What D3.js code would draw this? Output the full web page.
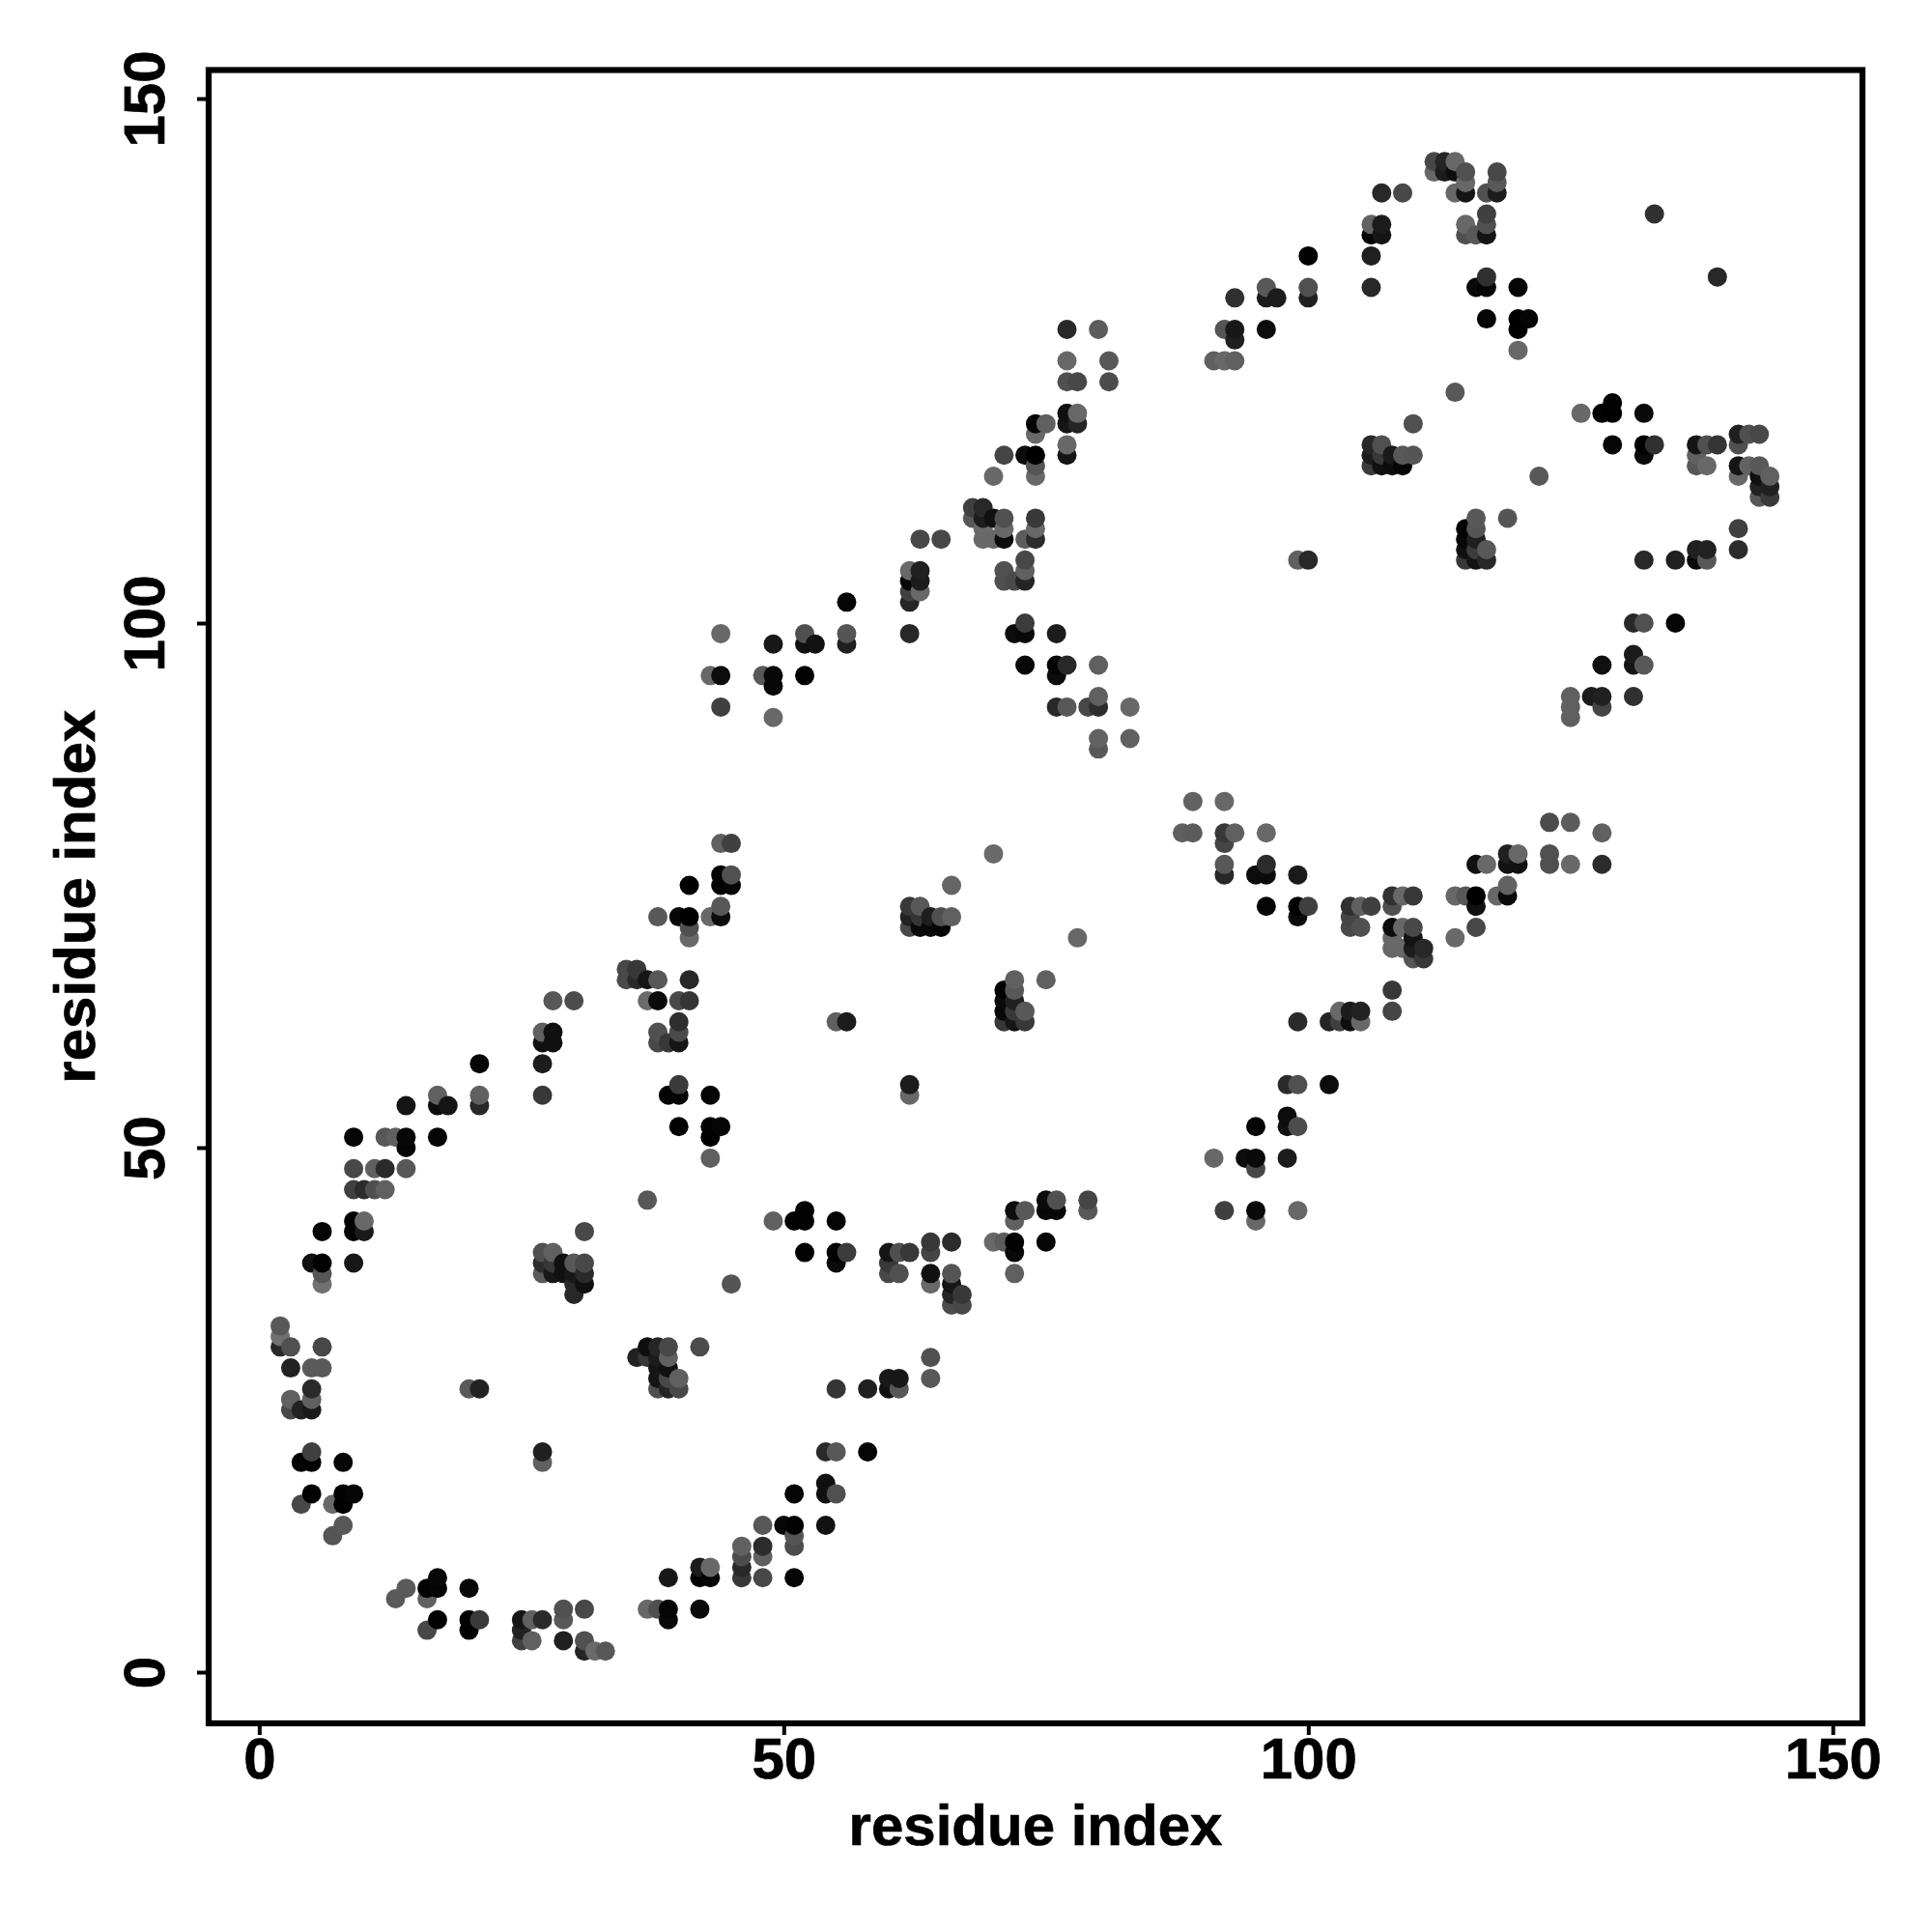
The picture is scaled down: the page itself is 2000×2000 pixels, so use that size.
<!DOCTYPE html>
<html>
<head>
<meta charset="utf-8">
<script src="https://cdn.jsdelivr.net/npm/d3@7"></script>
<style>
html,body{margin:0;padding:0;background:#fff}
svg{display:block}
text{font-family:"Liberation Sans",Arial,sans-serif;font-weight:700;fill:#000;stroke:#000;stroke-width:0.7px}
</style>
</head>
<body>
<svg id="chart" width="2000" height="2000"></svg>
<script>
// Each entry: [residue i, residue j, grey level]
const cornerTurn = [
[2,33,0x58],[2,32,0x70],[2,31,0x28],[3,31,0x50],[6,31,0x48],[3,29,0x22],[5,29,0x5a],[6,29,0x5a],
[5,27,0x2a],[3,26,0x60],[5,26,0x60],[3,25,0x48],[4,25,0x22],[5,25,0x1a],[5,21,0x40],[4,20,0x02],
[5,20,0x02],[8,20,0x05],[5,17,0x02],[4,16,0x48],[7,16,0x68],[8,17,0x02],[8,16,0x00],[9,17,0x05],
[8,14,0x58],[7,13,0x55]
];
const lowerBand = [
[14,8,0x5a],[13,7,0x5a],[16,7,0x60],[16,8,0x02],[17,9,0x08],[17,8,0x05],[20,8,0x08],[17,5,0x02],
[16,4,0x48],[20,5,0x02],[20,4,0x00],[21,5,0x3a],[25,5,0x15],[25,4,0x22],[25,3,0x40],[26,5,0x60],
[27,5,0x2a],[26,3,0x60],[29,6,0x50],[29,5,0x58],[31,6,0x48],[29,3,0x20],[31,3,0x50],[31,2,0x25],
[32,2,0x6a],[33,2,0x58],[37,6,0x68],[38,6,0x50],[39,6,0x05],[39,5,0x0a],[39,9,0x18],[42,10,0x1c],
[43,10,0x68],[42,9,0x02],[43,9,0x05],[42,6,0x0a],[46,12,0x60],[46,11,0x4c],[46,10,0x28],[46,9,0x38],
[48,12,0x2c],[48,11,0x60],[48,9,0x48],[48,14,0x58],[50,14,0x08],[51,14,0x02],[51,13,0x55],[51,12,0x4c],
[51,9,0x05],[51,17,0x05],[54,18,0x10],[54,17,0x10],[55,17,0x50],[54,14,0x12],[54,21,0x2a],[55,21,0x58],
[58,21,0x05],[55,27,0x35],[58,27,0x20],[60,27,0x10],[60,28,0x18],[61,28,0x18],[61,27,0x58],[64,30,0x50],
[64,28,0x58]
];
const upperLeftBand = [
[5,39,0x10],[6,39,0x02],[6,38,0x55],[6,37,0x70],[9,39,0x18],[6,42,0x05],[9,42,0x02],[9,43,0x02],
[10,42,0x1a],[10,43,0x68],[9,46,0x40],[10,46,0x2c],[11,46,0x50],[12,46,0x60],[9,48,0x48],[11,48,0x60],
[12,48,0x2a],[14,48,0x58],[9,51,0x05],[12,51,0x58],[13,51,0x60],[14,51,0x08],[14,50,0x05],[17,51,0x05],
[14,54,0x15],[17,54,0x0c],[17,55,0x60],[18,54,0x15],[21,55,0x60],[21,54,0x28],[21,58,0x05],[27,55,0x38],
[27,58,0x1c],[27,60,0x10],[28,60,0x10],[28,61,0x10],[27,61,0x60],[28,64,0x58],[30,64,0x4c]
];
const firstHelixLadder = [
[35,67,0x48],[36,67,0x38],[35,66,0x4a],[36,66,0x2a],[37,66,0x15],[38,66,0x58],[41,66,0x28],[37,64,0x6a],
[38,64,0x0a],[40,64,0x4a],[41,64,0x35],[40,62,0x2e],[40,61,0x4a],[40,60,0x15],[38,61,0x50],[38,60,0x48],
[39,60,0x38],[38,72,0x58],[40,72,0x08],[41,72,0x00],[41,71,0x50],[41,70,0x68],[41,75,0x00],[43,72,0x68],
[44,72,0x0c],[44,73,0x58],[44,76,0x02],[45,76,0x50],[44,75,0x02],[45,75,0x05],[44,79,0x60],[45,79,0x40],
[40,56,0x3a],[39,55,0x05],[40,55,0x05],[43,55,0x05],[40,52,0x02],[43,52,0x02],[44,52,0x05],[43,51,0x00],
[43,49,0x60]
];
const interiorClusters = [
[20,27,0x5a],[21,27,0x22],[27,21,0x20],[27,20,0x60],[37,45,0x58],[31,42,0x48],[45,37,0x55],
[27,40,0x50],[28,40,0x60],[27,39,0x2c],[28,39,0x38],[27,38,0x5a],[28,38,0x18],[29,39,0x10],[29,38,0x12],
[30,39,0x58],[31,39,0x48],[30,38,0x18],[31,38,0x2a],[30,37,0x28],[31,37,0x10],[30,36,0x28],
[36,30,0x22],[37,31,0x0e],[37,30,0x38],[38,31,0x25],[38,30,0x1c],[39,31,0x48],[39,30,0x60],[38,29,0x15],
[39,29,0x10],[38,28,0x15],[39,28,0x48],[40,28,0x60],[38,27,0x50],[39,27,0x25],[40,27,0x48],[42,31,0x4c],
[55,62,0x60],[56,62,0x1c],[70,78,0x6a],[66,75,0x65],[78,70,0x68],[75,66,0x60],[62,56,0x1c],[62,55,0x68],
[62,73,0x38],[63,73,0x58],[62,72,0x22],[63,72,0x35],[62,71,0x48],[63,71,0x0a],[64,72,0x1e],[64,71,0x08],
[65,72,0x50],[65,71,0x05],[66,72,0x60],
[72,66,0x60],[71,65,0x02],[72,65,0x58],[71,64,0x0a],[72,64,0x20],[71,63,0x08],[72,63,0x38],[73,63,0x58],
[71,62,0x38],[72,62,0x15],[73,62,0x38]
];
const middleBand = [
[49,43,0x60],[51,43,0x02],[52,44,0x02],[52,43,0x02],[55,43,0x05],[52,40,0x02],[55,40,0x02],[55,39,0x0a],
[56,40,0x3c],[60,40,0x15],[61,40,0x50],[62,40,0x38],[60,39,0x38],[60,38,0x48],[61,38,0x50],[64,41,0x38],
[64,40,0x45],[66,41,0x2c],[64,38,0x10],[64,37,0x68],[66,38,0x55],[66,37,0x15],[66,36,0x25],[67,36,0x38],
[66,35,0x4c],[67,35,0x48],[70,41,0x68],[71,41,0x5c],[72,41,0x02],[72,40,0x0a],[72,38,0x60],[75,41,0x05],
[72,44,0x0e],[73,44,0x58],[72,43,0x60],[75,45,0x0c],[76,45,0x50],[75,44,0x08],[76,44,0x08],[79,45,0x45],
[79,44,0x58]
];
const upperMiddleBand = [
[77,128,0x28],[80,128,0x5c],[77,125,0x68],[81,125,0x58],[77,123,0x50],[78,123,0x48],[81,123,0x4c],
[77,120,0x10],[78,120,0x68],[77,119,0x15],[78,119,0x25],[77,117,0x68],[77,116,0x14],[74,119,0x05],
[75,119,0x60],[74,118,0x68],[71,116,0x45],[73,116,0x0c],[74,116,0x00],[74,115,0x55],[74,114,0x68],
[70,114,0x68],[68,111,0x40],[68,110,0x58],[69,111,0x28],[69,110,0x1c],[70,110,0x10],[71,110,0x50],
[71,109,0x68],[71,108,0x0c],[69,109,0x6a],[69,108,0x68],[70,108,0x68],[74,110,0x38],[74,109,0x68],
[74,108,0x2c],[73,108,0x5c],[63,108,0x48],[65,108,0x48],[62,105,0x68],[63,105,0x20],[62,104,0x08],
[63,104,0x1c],[62,103,0x40],[63,103,0x68],[62,102,0x25],[71,105,0x50],[71,104,0x50],[72,104,0x4a],
[73,104,0x25],[73,105,0x60],[73,106,0x48],[56,102,0x05],[52,99,0x50],[52,98,0x10],[53,98,0x12],
[56,99,0x55],[56,98,0x20],[49,98,0x18],[62,99,0x28],[44,99,0x68],[43,95,0x68],[44,95,0x0c],[44,92,0x40],
[48,95,0x58],[49,95,0x08],[49,94,0x08],[49,91,0x68],[52,95,0x02],[72,99,0x0c],[73,99,0x0a],[73,100,0x3c],
[76,99,0x1c],[73,96,0x08],[76,96,0x05],[76,95,0x0c],[77,96,0x28],[80,96,0x60],[76,92,0x28],[77,92,0x58],
[79,92,0x48],[80,92,0x2c],[80,93,0x60],[83,92,0x68],[80,89,0x62],[80,88,0x58],[83,89,0x60]
];
const upperRightBand = [
[91,125,0x60],[92,125,0x68],[93,125,0x60],[92,128,0x55],[93,128,0x18],[93,127,0x20],[96,128,0x0c],
[93,131,0x30],[96,132,0x58],[96,131,0x1c],[97,131,0x1c],[100,132,0x50],[100,131,0x20],[100,135,0x02],
[106,132,0x28],[106,135,0x20],[106,137,0x04],[107,137,0x15],[107,138,0x1c],[106,138,0x62],[107,141,0x28],
[109,141,0x48],[112,144,0x48],[113,144,0x25],[114,144,0x68],[112,143,0x68],[113,143,0x1c],[114,143,0x0e],
[115,143,0x50],[115,142,0x68],[115,141,0x15],[114,141,0x68],[118,143,0x48],[118,142,0x58],[118,141,0x1c],
[117,141,0x50],[115,138,0x68],[115,137,0x50],[116,137,0x58],[117,137,0x14],[117,138,0x50],[117,139,0x40],
[117,133,0x30],[116,132,0x0a],[117,132,0x05],[120,132,0x05],[117,129,0x05],[120,129,0x00],[120,128,0x02],
[121,129,0x05],[120,126,0x68],[133,139,0x30],[139,133,0x28]
];
const rightClusters = [
[114,122,0x58],[110,119,0x50],[122,114,0x58],[119,110,0x55],[99,106,0x60],[100,106,0x28],
[106,117,0x28],[107,117,0x50],[106,116,0x1c],[107,116,0x38],[108,116,0x1a],[109,116,0x58],[110,116,0x55],
[106,115,0x3c],[107,115,0x10],[108,115,0x0c],[109,115,0x05],
[116,110,0x58],[116,109,0x55],[115,109,0x02],[115,108,0x08],[116,108,0x20],[115,107,0x10],[116,107,0x3c],
[117,107,0x58],[115,106,0x38],[116,106,0x14],[117,106,0x28],
[126,120,0x68],[128,120,0x02],[129,121,0x02],[129,120,0x00],[132,120,0x0a],[129,117,0x05],[132,117,0x02],
[132,116,0x0a],[133,117,0x30],[137,117,0x15],[138,117,0x50],[139,117,0x35],[137,116,0x60],[137,115,0x58],
[138,115,0x68],[141,118,0x20],[142,118,0x50],[143,118,0x48],[141,117,0x50],[141,115,0x15],[142,115,0x62],
[143,115,0x58],[141,114,0x68],[143,114,0x10],[144,114,0x60],[143,113,0x22],[144,113,0x20],[143,112,0x58],
[144,112,0x3a],[141,109,0x40],[141,107,0x2c],[137,107,0x20],[138,107,0x22],[137,106,0x08],[138,106,0x58],
[135,106,0x20],[132,106,0x28],[132,100,0x50],[131,100,0x28],[135,100,0x05],[131,97,0x1a],[131,96,0x14],
[132,96,0x58],[128,96,0x10],[125,93,0x60],[125,92,0x60],[125,91,0x60],[127,93,0x1c],[128,93,0x20],
[128,92,0x45],[131,93,0x30]
];
const lowerRightBand = [
[89,83,0x62],[92,83,0x68],[88,80,0x60],[89,80,0x5c],[92,80,0x38],[93,80,0x60],[92,79,0x45],[96,80,0x68],
[92,77,0x58],[92,76,0x28],[96,77,0x2c],[95,76,0x0c],[96,76,0x0c],[99,76,0x1a],[96,73,0x05],[99,73,0x02],
[99,72,0x0c],[100,73,0x40],[104,73,0x30],[105,73,0x60],[106,73,0x40],[104,72,0x45],[104,71,0x48],[105,71,0x50],
[108,74,0x30],[109,74,0x68],[110,74,0x38],[108,73,0x50],[108,71,0x0c],[109,71,0x68],[110,71,0x48],[108,70,0x68],
[108,69,0x68],[109,69,0x68],[110,70,0x14],[110,69,0x1c],[111,69,0x28],[110,68,0x55],[111,68,0x38],
[114,74,0x68],[115,74,0x58],[116,74,0x00],[116,73,0x10],[116,71,0x48],[114,70,0x68],[118,74,0x68],[119,74,0x0a],
[119,75,0x62],[116,77,0x10],[117,77,0x68],[119,78,0x20],[120,78,0x68],[119,77,0x12],[120,77,0x12],
[123,81,0x4c],[125,81,0x5c],[128,80,0x60],[123,78,0x50],[123,77,0x50],[125,77,0x68],[128,77,0x2c],
[108,65,0x38],[108,63,0x45],[99,62,0x2a],[102,62,0x25],[103,62,0x40],[103,63,0x68],[104,63,0x1c],[104,62,0x0e],
[105,63,0x22],[105,62,0x68],[98,56,0x2a],[99,56,0x50],[102,56,0x0c],[98,53,0x0c],[98,52,0x10],[99,52,0x4c],
[95,52,0x05],[91,49,0x68],[94,49,0x0c],[95,49,0x0a],[95,48,0x48],[98,49,0x1c],[92,44,0x40],[95,44,0x0a],
[95,43,0x68],[99,44,0x68]
];
const xTickValues = [0, 50, 100, 150];
const yTickValues = [0, 50, 100, 150];
const xLabel = "residue index";
const yLabel = "residue index";

const contacts = [].concat(cornerTurn, lowerBand, upperLeftBand, firstHelixLadder, interiorClusters,
  middleBand, upperMiddleBand, upperRightBand, rightClusters, lowerRightBand)
  .sort((a, b) => d3.ascending(a[0], b[0]) || d3.ascending(a[1], b[1]));

const frame = {left: 216, right: 1928, top: 72.5, bottom: 1784};
const x = d3.scaleLinear().domain([-4.82, 152.83]).range([frame.left, frame.right]);
const y = d3.scaleLinear().domain([-4.88, 152.72]).range([frame.bottom, frame.top]);
const shade = d3.scaleLinear().domain([0, 255]).range(["#000000", "#ffffff"]);

const svg = d3.select("#chart");

svg.append("g").selectAll("circle").data(contacts).join("circle")
  .attr("cx", d => x(d[0]))
  .attr("cy", d => y(d[1]))
  .attr("r", 10)
  .attr("fill", d => shade(d[2]));

svg.append("rect")
  .attr("x", frame.left).attr("y", frame.top)
  .attr("width", frame.right - frame.left).attr("height", frame.bottom - frame.top)
  .attr("fill", "none").attr("stroke", "#000").attr("stroke-width", 6.2);

const xAxis = svg.append("g").attr("transform", `translate(0,${frame.bottom})`)
  .call(d3.axisBottom(x).tickValues(xTickValues).tickSize(12).tickFormat(d3.format("d")));
const yAxis = svg.append("g").attr("transform", `translate(${frame.left},0)`)
  .call(d3.axisLeft(y).tickValues(yTickValues).tickSize(12).tickFormat(d3.format("d")));
[xAxis, yAxis].forEach(a => {
  a.select(".domain").remove();
  a.attr("font-family", null).attr("font-size", null);
  a.selectAll("line").attr("stroke", "#000").attr("stroke-width", 4);
  a.selectAll("text").style("font-size", "60px").attr("fill", "#000");
});
xAxis.selectAll("text").attr("y", 0).attr("dy", null)
  .attr("transform", "translate(0,57)").attr("text-anchor", "middle");
yAxis.selectAll("text").attr("x", 0).attr("dy", null)
  .attr("transform", "translate(-46,0) rotate(-90)").attr("text-anchor", "middle");

svg.append("text").attr("x", (frame.left + frame.right) / 2).attr("y", 1910)
  .attr("text-anchor", "middle").style("font-size", "60px").text(xLabel);
svg.append("text").attr("transform", `translate(98,${(frame.top + frame.bottom) / 2}) rotate(-90)`)
  .attr("text-anchor", "middle").style("font-size", "60px").text(yLabel);
</script>
</body>
</html>
